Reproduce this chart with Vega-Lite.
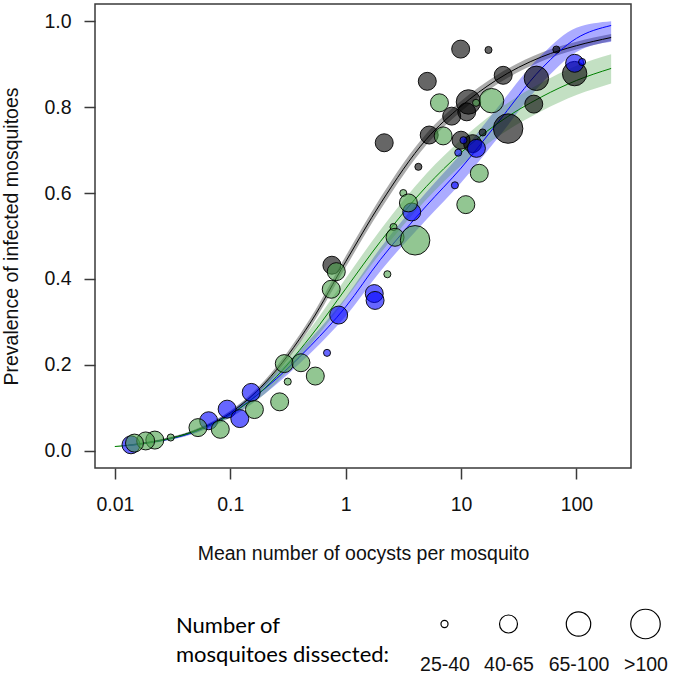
{
  "$schema": "https://vega.github.io/schema/vega-lite/v6.json",
  "width": 536,
  "height": 464,
  "autosize": {"type": "none"},
  "padding": {"left": 95, "top": 4, "right": 44, "bottom": 210},
  "background": "white",
  "config": {
    "view": {"stroke": "#3a3a3a", "strokeWidth": 1.5, "fill": "white"},
    "axis": {
      "domain": false, "grid": false, "ticks": true,
      "tickColor": "#3a3a3a", "tickWidth": 1.5, "tickSize": 11,
      "labelFont": "Liberation Sans", "labelFontSize": 19.5, "labelColor": "#111111",
      "titleFont": "Liberation Sans", "titleFontSize": 19.5, "titleFontWeight": "normal", "titleColor": "#111111",
      "labelFlush": false, "labelOverlap": false
    }
  },
  "datasets": {
    "curves": [
      {"group": "grey", "x": 0.013, "y": 0.013, "lo": 0.012, "hi": 0.014},
      {"group": "grey", "x": 0.02, "y": 0.020, "lo": 0.018, "hi": 0.022},
      {"group": "grey", "x": 0.05, "y": 0.047, "lo": 0.044, "hi": 0.050},
      {"group": "grey", "x": 0.1, "y": 0.088, "lo": 0.083, "hi": 0.093},
      {"group": "grey", "x": 0.2, "y": 0.158, "lo": 0.151, "hi": 0.165},
      {"group": "grey", "x": 0.5, "y": 0.300, "lo": 0.289, "hi": 0.311},
      {"group": "grey", "x": 1, "y": 0.440, "lo": 0.427, "hi": 0.453},
      {"group": "grey", "x": 2, "y": 0.575, "lo": 0.561, "hi": 0.589},
      {"group": "grey", "x": 5, "y": 0.725, "lo": 0.712, "hi": 0.738},
      {"group": "grey", "x": 10, "y": 0.802, "lo": 0.790, "hi": 0.814},
      {"group": "grey", "x": 20, "y": 0.862, "lo": 0.851, "hi": 0.873},
      {"group": "grey", "x": 50, "y": 0.917, "lo": 0.907, "hi": 0.927},
      {"group": "grey", "x": 100, "y": 0.943, "lo": 0.934, "hi": 0.952},
      {"group": "grey", "x": 200, "y": 0.962, "lo": 0.954, "hi": 0.970},
      {"group": "blue", "x": 0.013, "y": 0.012, "lo": 0.011, "hi": 0.014},
      {"group": "blue", "x": 0.02, "y": 0.019, "lo": 0.017, "hi": 0.021},
      {"group": "blue", "x": 0.05, "y": 0.045, "lo": 0.041, "hi": 0.049},
      {"group": "blue", "x": 0.1, "y": 0.085, "lo": 0.078, "hi": 0.092},
      {"group": "blue", "x": 0.2, "y": 0.145, "lo": 0.133, "hi": 0.157},
      {"group": "blue", "x": 0.5, "y": 0.245, "lo": 0.228, "hi": 0.262},
      {"group": "blue", "x": 1, "y": 0.335, "lo": 0.313, "hi": 0.357},
      {"group": "blue", "x": 2, "y": 0.445, "lo": 0.418, "hi": 0.472},
      {"group": "blue", "x": 5, "y": 0.570, "lo": 0.538, "hi": 0.602},
      {"group": "blue", "x": 10, "y": 0.658, "lo": 0.624, "hi": 0.692},
      {"group": "blue", "x": 20, "y": 0.758, "lo": 0.722, "hi": 0.794},
      {"group": "blue", "x": 50, "y": 0.890, "lo": 0.855, "hi": 0.922},
      {"group": "blue", "x": 100, "y": 0.960, "lo": 0.928, "hi": 0.985},
      {"group": "blue", "x": 200, "y": 0.990, "lo": 0.952, "hi": 1.0},
      {"group": "green", "x": 0.01, "y": 0.010, "lo": 0.009, "hi": 0.011},
      {"group": "green", "x": 0.02, "y": 0.019, "lo": 0.017, "hi": 0.021},
      {"group": "green", "x": 0.05, "y": 0.046, "lo": 0.042, "hi": 0.050},
      {"group": "green", "x": 0.1, "y": 0.084, "lo": 0.077, "hi": 0.091},
      {"group": "green", "x": 0.2, "y": 0.146, "lo": 0.133, "hi": 0.159},
      {"group": "green", "x": 0.5, "y": 0.267, "lo": 0.248, "hi": 0.286},
      {"group": "green", "x": 1, "y": 0.377, "lo": 0.353, "hi": 0.401},
      {"group": "green", "x": 2, "y": 0.487, "lo": 0.460, "hi": 0.514},
      {"group": "green", "x": 5, "y": 0.615, "lo": 0.585, "hi": 0.645},
      {"group": "green", "x": 10, "y": 0.694, "lo": 0.664, "hi": 0.724},
      {"group": "green", "x": 20, "y": 0.759, "lo": 0.728, "hi": 0.790},
      {"group": "green", "x": 50, "y": 0.824, "lo": 0.791, "hi": 0.857},
      {"group": "green", "x": 100, "y": 0.862, "lo": 0.828, "hi": 0.896},
      {"group": "green", "x": 200, "y": 0.890, "lo": 0.855, "hi": 0.923}
    ],
    "points": [
      {"group": "grey", "x": 9.93, "y": 0.935, "n": "40-65"},
      {"group": "grey", "x": 17.3, "y": 0.933, "n": "25-40"},
      {"group": "grey", "x": 5.1, "y": 0.860, "n": "40-65"},
      {"group": "grey", "x": 23.2, "y": 0.874, "n": "40-65"},
      {"group": "grey", "x": 11.6, "y": 0.812, "n": "65-100"},
      {"group": "grey", "x": 11.2, "y": 0.789, "n": "40-65"},
      {"group": "grey", "x": 8.3, "y": 0.779, "n": "40-65"},
      {"group": "grey", "x": 5.3, "y": 0.735, "n": "40-65"},
      {"group": "grey", "x": 4.27, "y": 0.661, "n": "25-40"},
      {"group": "grey", "x": 25.6, "y": 0.750, "n": ">100"},
      {"group": "grey", "x": 45, "y": 0.867, "n": "65-100"},
      {"group": "grey", "x": 96.5, "y": 0.878, "n": "65-100"},
      {"group": "grey", "x": 42.7, "y": 0.807, "n": "40-65"},
      {"group": "grey", "x": 67, "y": 0.934, "n": "25-40"},
      {"group": "grey", "x": 10, "y": 0.723, "n": "40-65"},
      {"group": "grey", "x": 12.6, "y": 0.715, "n": "40-65"},
      {"group": "grey", "x": 15.4, "y": 0.741, "n": "25-40"},
      {"group": "grey", "x": 2.16, "y": 0.717, "n": "40-65"},
      {"group": "grey", "x": 0.76, "y": 0.432, "n": "40-65"},
      {"group": "blue", "x": 96.5, "y": 0.902, "n": "40-65"},
      {"group": "blue", "x": 112, "y": 0.905, "n": "25-40"},
      {"group": "blue", "x": 13.6, "y": 0.704, "n": "40-65"},
      {"group": "blue", "x": 10.5, "y": 0.723, "n": "25-40"},
      {"group": "blue", "x": 9.46, "y": 0.694, "n": "25-40"},
      {"group": "blue", "x": 8.85, "y": 0.618, "n": "25-40"},
      {"group": "blue", "x": 3.74, "y": 0.556, "n": "40-65"},
      {"group": "blue", "x": 1.77, "y": 0.366, "n": "40-65"},
      {"group": "blue", "x": 1.80, "y": 0.350, "n": "40-65"},
      {"group": "blue", "x": 0.87, "y": 0.316, "n": "40-65"},
      {"group": "blue", "x": 0.69, "y": 0.228, "n": "25-40"},
      {"group": "blue", "x": 0.152, "y": 0.136, "n": "40-65"},
      {"group": "blue", "x": 0.094, "y": 0.097, "n": "40-65"},
      {"group": "blue", "x": 0.121, "y": 0.075, "n": "40-65"},
      {"group": "blue", "x": 0.065, "y": 0.070, "n": "40-65"},
      {"group": "blue", "x": 0.0138, "y": 0.014, "n": "40-65"},
      {"group": "green", "x": 6.5, "y": 0.81, "n": "40-65"},
      {"group": "green", "x": 18.4, "y": 0.815, "n": "65-100"},
      {"group": "green", "x": 13.5, "y": 0.81, "n": "25-40"},
      {"group": "green", "x": 7.0, "y": 0.733, "n": "40-65"},
      {"group": "green", "x": 14.4, "y": 0.646, "n": "40-65"},
      {"group": "green", "x": 11.0, "y": 0.573, "n": "40-65"},
      {"group": "green", "x": 3.16, "y": 0.600, "n": "25-40"},
      {"group": "green", "x": 3.5, "y": 0.577, "n": "40-65"},
      {"group": "green", "x": 2.6, "y": 0.521, "n": "25-40"},
      {"group": "green", "x": 2.68, "y": 0.497, "n": "40-65"},
      {"group": "green", "x": 4.0, "y": 0.49, "n": ">100"},
      {"group": "green", "x": 2.30, "y": 0.411, "n": "25-40"},
      {"group": "green", "x": 0.83, "y": 0.417, "n": "40-65"},
      {"group": "green", "x": 0.75, "y": 0.376, "n": "40-65"},
      {"group": "green", "x": 0.294, "y": 0.203, "n": "40-65"},
      {"group": "green", "x": 0.41, "y": 0.205, "n": "40-65"},
      {"group": "green", "x": 0.546, "y": 0.174, "n": "40-65"},
      {"group": "green", "x": 0.315, "y": 0.161, "n": "25-40"},
      {"group": "green", "x": 0.268, "y": 0.114, "n": "40-65"},
      {"group": "green", "x": 0.162, "y": 0.096, "n": "40-65"},
      {"group": "green", "x": 0.0525, "y": 0.054, "n": "40-65"},
      {"group": "green", "x": 0.082, "y": 0.050, "n": "40-65"},
      {"group": "green", "x": 0.0305, "y": 0.031, "n": "25-40"},
      {"group": "green", "x": 0.0222, "y": 0.025, "n": "40-65"},
      {"group": "green", "x": 0.0185, "y": 0.023, "n": "40-65"},
      {"group": "green", "x": 0.0148, "y": 0.018, "n": "40-65"}
    ]
  },
  "encoding": {
    "x": {
      "field": "x", "type": "quantitative",
      "scale": {"type": "log", "domain": [0.00673, 297.2], "nice": false},
      "axis": {
        "values": [0.01, 0.1, 1, 10, 100], "format": "~g", "labelPadding": 16,
        "title": "Mean number of oocysts per mosquito",
        "titleX": 268, "titleY": 85, "titleBaseline": "middle", "titleAnchor": "middle"
      }
    }
  },
  "layer": [
    {
      "data": {"name": "curves"},
      "mark": {"type": "area", "interpolate": "monotone", "fillOpacity": 0.33},
      "encoding": {
        "y": {"field": "lo", "type": "quantitative", "scale": {"domain": [-0.04, 1.04], "nice": false, "zero": false},
          "axis": {"values": [0, 0.2, 0.4, 0.6, 0.8, 1], "format": ".1f", "labelPadding": 13,
            "title": "Prevalence of infected mosquitoes", "titleX": -84, "titleY": 232, "titleBaseline": "middle"}},
        "y2": {"field": "hi"},
        "fill": {"field": "group", "type": "nominal",
          "scale": {"domain": ["grey", "blue", "green"], "range": ["#000000", "#0000ff", "#4aa04a"]}, "legend": null}
      }
    },
    {
      "data": {"name": "curves"},
      "mark": {"type": "line", "interpolate": "monotone", "strokeWidth": 1},
      "encoding": {
        "y": {"field": "y", "type": "quantitative"},
        "stroke": {"field": "group", "type": "nominal",
          "scale": {"domain": ["grey", "blue", "green"], "range": ["#000000", "#0000ff", "#008000"]}, "legend": null}
      }
    },
    {
      "data": {"name": "points"},
      "mark": {"type": "point", "shape": "circle", "filled": true, "fillOpacity": 0.6, "stroke": "#000000", "strokeWidth": 1, "strokeOpacity": 0.9},
      "encoding": {
        "y": {"field": "y", "type": "quantitative"},
        "fill": {"field": "group", "type": "nominal",
          "scale": {"domain": ["grey", "blue", "green"], "range": ["#000000", "#0000ff", "#4aa04a"]}, "legend": null},
        "size": {
          "field": "n", "type": "ordinal",
          "scale": {"domain": ["25-40", "40-65", "65-100", ">100"], "range": [50, 870]},
          "legend": {
            "orient": "none", "legendX": 81, "legendY": 602.5, "direction": "horizontal", "columns": 4, "clipHeight": 35,
            "title": ["Number of", "mosquitoes dissected:"], "titleOrient": "left",
            "titleFont": "Lato", "titleFontSize": 22, "titleFontWeight": "normal", "titleColor": "#000000",
            "titleLineHeight": 29, "titleLimit": 400, "titlePadding": 39, "titleBaseline": "top",
            "symbolType": "circle", "symbolStrokeColor": "#000000", "symbolStrokeWidth": 1.2, "symbolFillColor": "white",
            "labelFont": "Liberation Sans", "labelFontSize": 19.5, "labelColor": "#111111",
            "labelAlign": "center", "labelOffset": -15, "labelBaseline": "middle",
            "columnPadding": 14, "gridAlign": "none",
            "encode": {
              "labels": {"update": {"dy": {"value": 41}}},
              "title": {"update": {"dy": {"value": -10.5}}},
              "symbols": {"update": {"fill": {"value": "white"}, "fillOpacity": {"value": 0}, "stroke": {"value": "#000000"}, "strokeWidth": {"value": 1.2}, "opacity": {"value": 1}}}
            }
          }
        }
      }
    }
  ]
}
